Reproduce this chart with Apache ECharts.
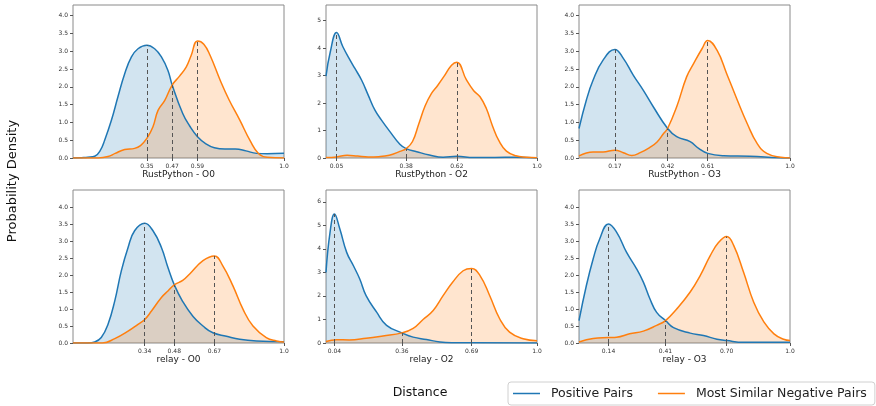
<!DOCTYPE html>
<html><head><meta charset="utf-8">
<script src="https://cdn.jsdelivr.net/npm/echarts@6/dist/echarts.min.js"></script>
<style>html,body{margin:0;padding:0;background:#fff}#c{width:876px;height:406px}</style>
</head><body><div id="c"></div>
<script>
const panelTitles = ['RustPython - O0', 'RustPython - O2', 'RustPython - O3', 'relay - O0', 'relay - O2', 'relay - O3'];
const yMax = [4.3, 5.57, 4.3, 4.5, 6.5, 4.5];
const yTicks = [
  [0,0.5,1,1.5,2,2.5,3,3.5,4],
  [0,1,2,3,4,5],
  [0,0.5,1,1.5,2,2.5,3,3.5,4],
  [0,0.5,1,1.5,2,2.5,3,3.5,4],
  [0,1,2,3,4,5,6],
  [0,0.5,1,1.5,2,2.5,3,3.5,4]
];
const markX = [[0.35,0.47,0.59],[0.05,0.38,0.62],[0.17,0.42,0.61],[0.34,0.48,0.67],[0.04,0.36,0.69],[0.14,0.41,0.70]];

const posRustO0 = [[0,0],[0.04,0.01],[0.07,0.02],[0.103,0.05],[0.13,0.22],[0.15,0.5],[0.182,1.06],[0.213,1.72],[0.245,2.37],[0.277,2.84],[0.308,3.07],[0.35,3.17],[0.387,3.07],[0.419,2.84],[0.45,2.46],[0.47,2.05],[0.52,1.25],[0.553,0.9],[0.59,0.6],[0.63,0.4],[0.67,0.29],[0.72,0.25],[0.77,0.25],[0.82,0.2],[0.87,0.13],[0.92,0.12],[1.0,0.13]];
const negRustO0 = [[0,0],[0.12,0.0],[0.166,0.04],[0.20,0.13],[0.245,0.24],[0.292,0.27],[0.32,0.35],[0.35,0.55],[0.379,0.88],[0.403,1.34],[0.435,1.62],[0.47,2.05],[0.505,2.3],[0.537,2.56],[0.56,2.88],[0.59,3.29],[0.62,3.2],[0.65,2.88],[0.70,2.15],[0.74,1.63],[0.79,1.07],[0.84,0.48],[0.88,0.12],[0.92,0.02],[1.0,0.0]];
const posRustO2 = [[0,2.98],[0.02,3.85],[0.05,4.57],[0.08,4.05],[0.114,3.56],[0.137,3.26],[0.169,2.83],[0.20,2.29],[0.232,1.74],[0.263,1.38],[0.303,0.96],[0.35,0.5],[0.38,0.34],[0.43,0.23],[0.49,0.11],[0.555,0.03],[0.62,0.06],[0.7,0.02],[0.8,0.02],[0.9,0.03],[1.0,0.0]];
const negRustO2 = [[0,0.02],[0.05,0.04],[0.10,0.1],[0.15,0.07],[0.20,0.04],[0.25,0.05],[0.30,0.1],[0.35,0.24],[0.38,0.34],[0.41,0.6],[0.44,1.25],[0.47,1.9],[0.50,2.35],[0.53,2.65],[0.56,2.98],[0.595,3.38],[0.62,3.49],[0.665,2.85],[0.70,2.45],[0.73,2.23],[0.76,1.8],[0.79,1.15],[0.82,0.62],[0.855,0.25],[0.90,0.08],[0.95,0.03],[1.0,0.01]];
const posRustO3 = [[0,0.83],[0.035,1.63],[0.067,2.19],[0.114,2.75],[0.17,3.05],[0.21,2.8],[0.257,2.33],[0.305,1.9],[0.352,1.44],[0.42,0.83],[0.463,0.6],[0.527,0.46],[0.567,0.27],[0.61,0.13],[0.686,0.065],[0.81,0.05],[0.94,0.01],[1.0,0.0]];
const negRustO3 = [[0,0.06],[0.067,0.17],[0.114,0.17],[0.17,0.22],[0.21,0.15],[0.25,0.07],[0.29,0.15],[0.336,0.3],[0.37,0.45],[0.40,0.68],[0.42,0.83],[0.463,1.44],[0.51,2.28],[0.543,2.65],[0.583,3.07],[0.61,3.3],[0.654,3.03],[0.70,2.37],[0.75,1.63],[0.797,0.97],[0.844,0.41],[0.89,0.13],[0.956,0.02],[1.0,0.0]];
const posRelayO0 = [[0,0],[0.07,0.0],[0.103,0.03],[0.134,0.16],[0.166,0.55],[0.198,1.24],[0.229,2.12],[0.261,2.81],[0.292,3.3],[0.34,3.52],[0.379,3.3],[0.419,2.81],[0.45,2.22],[0.48,1.71],[0.52,1.22],[0.569,0.78],[0.616,0.5],[0.663,0.3],[0.727,0.2],[0.79,0.11],[0.87,0.06],[1.0,0.04]];
const negRelayO0 = [[0,0],[0.14,0.0],[0.198,0.13],[0.261,0.35],[0.308,0.55],[0.34,0.69],[0.372,0.94],[0.419,1.34],[0.45,1.53],[0.48,1.71],[0.52,1.84],[0.553,2.03],[0.616,2.42],[0.67,2.56],[0.71,2.27],[0.758,1.68],[0.806,0.99],[0.853,0.5],[0.916,0.16],[0.964,0.06],[1.0,0.03]];
const posRelayO2 = [[0,3.0],[0.019,4.69],[0.04,5.48],[0.066,4.83],[0.098,3.85],[0.13,3.28],[0.16,2.72],[0.19,2.01],[0.24,1.31],[0.287,0.75],[0.36,0.43],[0.413,0.25],[0.476,0.15],[0.54,0.04],[0.6,0.01],[1.0,0.0]];
const negRelayO2 = [[0,0.06],[0.05,0.14],[0.11,0.13],[0.19,0.2],[0.27,0.3],[0.36,0.43],[0.413,0.62],[0.46,1.0],[0.508,1.38],[0.555,2.01],[0.60,2.58],[0.65,3.07],[0.69,3.17],[0.73,2.86],[0.776,2.01],[0.823,1.03],[0.87,0.46],[0.934,0.18],[1.0,0.1]];
const posRelayO3 = [[0,0.66],[0.035,1.69],[0.067,2.47],[0.098,3.06],[0.14,3.5],[0.178,3.26],[0.225,2.67],[0.273,2.18],[0.305,1.79],[0.336,1.3],[0.368,0.9],[0.41,0.66],[0.448,0.45],[0.527,0.29],[0.59,0.22],[0.654,0.11],[0.70,0.07],[0.78,0.02],[1.0,0.02]];
const negRelayO3 = [[0,0.03],[0.067,0.13],[0.14,0.16],[0.178,0.17],[0.24,0.27],[0.305,0.35],[0.368,0.52],[0.41,0.66],[0.463,1.0],[0.527,1.5],[0.575,1.99],[0.622,2.57],[0.662,2.96],[0.70,3.13],[0.733,2.87],[0.78,2.08],[0.828,1.2],[0.876,0.62],[0.924,0.27],[0.97,0.11],[1.0,0.07]];

const posSeries = [posRustO0, posRustO2, posRustO3, posRelayO0, posRelayO2, posRelayO3];
const negSeries = [negRustO0, negRustO2, negRustO3, negRelayO0, negRelayO2, negRelayO3];
const seriesNames = ['Positive Pairs', 'Most Similar Negative Pairs'];

const BLUE = '#1f77b4', ORANGE = '#ff7f0e';
const FONT = 'DejaVu Sans';
const gridLeft = [73, 326, 579];
const gridTop = [5, 190];
const gridW = 211, gridH = 153;

function interp(arr, x) {
  for (let i = 0; i < arr.length - 1; i++) {
    const a = arr[i], b = arr[i + 1];
    if (x >= a[0] && x <= b[0]) {
      const t = (b[0] === a[0]) ? 0 : (x - a[0]) / (b[0] - a[0]);
      return a[1] + t * (b[1] - a[1]);
    }
  }
  return 0;
}

const grids = [], xAxes = [], yAxes = [], series = [];
for (let i = 0; i < 6; i++) {
  const r = Math.floor(i / 3), c = i % 3;
  grids.push({left: gridLeft[c], top: gridTop[r], width: gridW, height: gridH,
    show: true, borderColor: '#8a8a8a', borderWidth: 1, backgroundColor: 'transparent'});
  const xt = markX[i].concat([1.0]);
  xAxes.push({type: 'value', gridIndex: i, min: 0, max: 1,
    name: panelTitles[i], nameLocation: 'middle', nameGap: 12,
    nameTextStyle: {fontFamily: FONT, fontSize: 9, color: '#222'},
    axisLine: {show: false}, splitLine: {show: false},
    axisTick: {show: true, length: 3, lineStyle: {color: '#555'}, customValues: xt},
    axisLabel: {fontFamily: FONT, fontSize: 6, color: '#333', margin: 5, customValues: xt,
      formatter: v => (v === 1 ? '1.0' : v.toFixed(2))}
  });
  const isInt = yTicks[i][1] === 1;
  yAxes.push({type: 'value', gridIndex: i, min: 0, max: yMax[i],
    axisLine: {show: false}, splitLine: {show: false},
    axisTick: {show: true, length: 3, lineStyle: {color: '#555'}, customValues: yTicks[i]},
    axisLabel: {fontFamily: FONT, fontSize: 6, color: '#333', margin: 5, customValues: yTicks[i],
      formatter: v => (isInt ? String(Math.round(v)) : v.toFixed(1))}
  });
  const marks = markX[i].map(x => {
    const y = Math.max(interp(posSeries[i], x), interp(negSeries[i], x));
    return [{coord: [x, 0]}, {coord: [x, y]}];
  });
  series.push({type: 'line', name: seriesNames[0], xAxisIndex: i, yAxisIndex: i,
    data: posSeries[i], smooth: 0.45, symbol: 'none', showSymbol: false,
    lineStyle: {color: BLUE, width: 1.5}, itemStyle: {color: BLUE},
    areaStyle: {color: BLUE, opacity: 0.2}, z: 2});
  series.push({type: 'line', name: seriesNames[1], xAxisIndex: i, yAxisIndex: i,
    data: negSeries[i], smooth: 0.45, symbol: 'none', showSymbol: false,
    lineStyle: {color: ORANGE, width: 1.5}, itemStyle: {color: ORANGE},
    areaStyle: {color: ORANGE, opacity: 0.2}, z: 2,
    markLine: {silent: true, symbol: ['none', 'none'], label: {show: false}, animation: false,
      lineStyle: {type: [4, 3], color: '#555', width: 1}, data: marks}});
}

const chart = echarts.init(document.getElementById('c'), null, {renderer: 'canvas'});
chart.setOption({
  animation: false,
  backgroundColor: '#fff',
  grid: grids, xAxis: xAxes, yAxis: yAxes, series: series,
  legend: {data: seriesNames, left: 508, top: 382, orient: 'horizontal',
    icon: 'rect', padding: [4, 8, 4, 5], itemWidth: 27, itemHeight: 1.5, itemGap: 25,
    borderColor: '#d0d0d0', borderWidth: 1, borderRadius: 3, backgroundColor: '#fff',
    textStyle: {fontFamily: FONT, fontSize: 12.5, color: '#222', padding: [0, 0, 0, 6], lineHeight: 15}},
  graphic: [
    {type: 'text', x: 13, y: 181, rotation: Math.PI / 2,
      style: {text: 'Probability Density', fontFamily: FONT, fontSize: 13, fill: '#111',
        align: 'center', verticalAlign: 'middle', textAlign: 'center', textVerticalAlign: 'middle'}},
    {type: 'text', x: 420, y: 393,
      style: {text: 'Distance', fontFamily: FONT, fontSize: 12.5, fill: '#111',
        align: 'center', verticalAlign: 'middle', textAlign: 'center', textVerticalAlign: 'middle'}}
  ]
});
</script></body></html>
